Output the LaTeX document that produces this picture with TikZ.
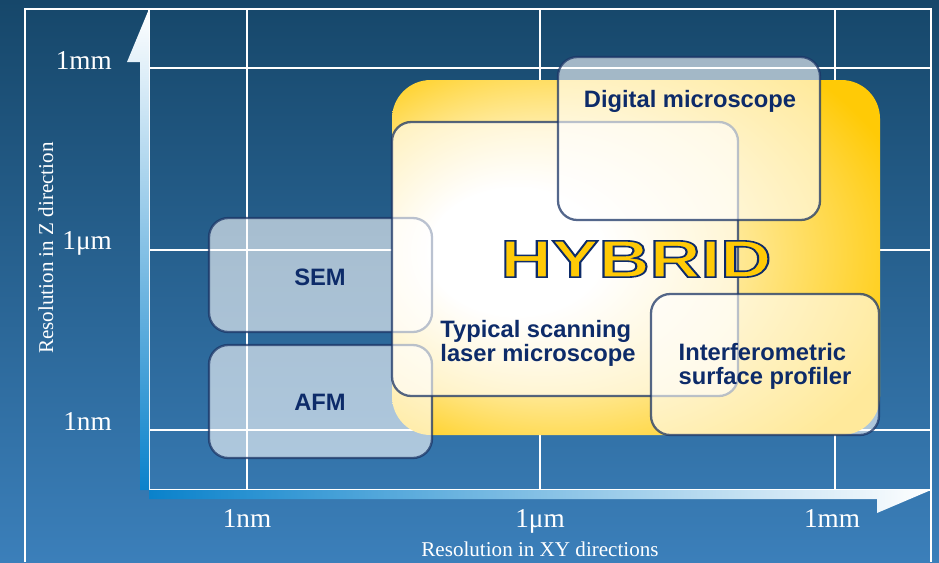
\documentclass[tikz,border=0pt]{standalone}
\usepackage{fontspec}
\setmainfont{Liberation Serif}
\setsansfont{Liberation Sans}
\definecolor{bgtop}{HTML}{16476A}
\definecolor{bgbottom}{HTML}{3B7FBA}
\definecolor{navy}{HTML}{0D2B69}
\definecolor{boxline}{HTML}{1B3566}
\definecolor{hybridyellow}{HTML}{FFCA06}
\definecolor{axisblue}{HTML}{0A82CB}
\pgfdeclareradialshading{hybridglow}{\pgfpoint{-15bp}{1bp}}{color(0bp)=(white); color(9bp)=(white); color(34bp)=(hybridyellow); color(50bp)=(hybridyellow)}
% outlined letters (fill yellow, stroke navy)
\newcommand{\strokedtext}[1]{\special{pdf:literal direct 0.05 0.17 0.41 RG 0.9 w 2 Tr}#1\special{pdf:literal direct 0 Tr}}
\tikzset{
  gridline/.style={white, line width=1.2pt},
  methodbox/.style={draw=boxline, draw opacity=0.75, line width=1.3pt, fill=white, fill opacity=0.6, rounded corners=11pt},
  method/.style={font=\sffamily\bfseries\fontsize{13.5}{13.5}\selectfont, text=navy, align=left},
  scalemark/.style={font=\fontsize{15.5}{16}\selectfont, text=white},
  axistitle/.style={font=\fontsize{12}{13}\selectfont, text=white},
  hybridtext/.style={font=\sffamily\bfseries\fontsize{30}{30}\selectfont, xscale=1.34},
}
\begin{document}
\begin{tikzpicture}[x=0.02cm, y=-0.02cm]
% background
\shade[top color=bgtop, bottom color=bgbottom] (0,0) rectangle (939,562);
\useasboundingbox (0,0) rectangle (939,562);
% frame and grid
\draw[gridline] (25,562) -- (25,9) -- (931,9) -- (931,562);
\foreach \x in {149,247,540,835} \draw[gridline] (\x,9) -- (\x,490);
\foreach \y in {68,250,430,490} \draw[gridline] (149,\y) -- (931,\y);
% axes
\shade[top color=white, bottom color=axisblue] (149,490) -- (140,490) -- (140,62) -- (127,62) -- (149,9) -- cycle;
\shade[left color=axisblue, right color=white] (149,490) -- (149,499) -- (877,499) -- (877,513) -- (931,490) -- cycle;
% hybrid region
\shade[shading=hybridglow, rounded corners=22pt] (392,80) rectangle (880,435);
% methods
\draw[methodbox] (209,218) rectangle (432,332);
\draw[methodbox] (209,345) rectangle (432,458);
\draw[methodbox] (392,122) rectangle (738,396);
\draw[methodbox] (558,57) rectangle (820,220);
\draw[methodbox] (651,294) rectangle (879,435);
\node[method] (sem) at (320,277) {SEM};
\node[method] (afm) at (320,402) {AFM};
\node[method] (digital) at (690,101) {Digital microscope};
\node[method] (lsm) at (538,343) {Typical scanning\\laser microscope};
\node[method] (profiler) at (765,366) {Interferometric\\surface profiler};
\node[hybridtext, text=hybridyellow] (hybrid) at (636,259) {\strokedtext{HYBRID}};
% scales
\node[scalemark, anchor=base east] (z1mm) at (118,69) {1mm};
\node[scalemark, anchor=base east] (z1um) at (118,249) {1μm};
\node[scalemark, anchor=base east] (z1nm) at (118,430) {1nm};
\node[scalemark, anchor=base] (xy1nm) at (247,527) {1nm};
\node[scalemark, anchor=base] (xy1um) at (540,527) {1μm};
\node[scalemark, anchor=base] (xy1mm) at (832,527) {1mm};
\node[axistitle, rotate=90] (ztitle) at (46,248) {Resolution in Z direction};
\node[axistitle] (xytitle) at (540,549) {Resolution in XY directions};
\end{tikzpicture}
\end{document}
